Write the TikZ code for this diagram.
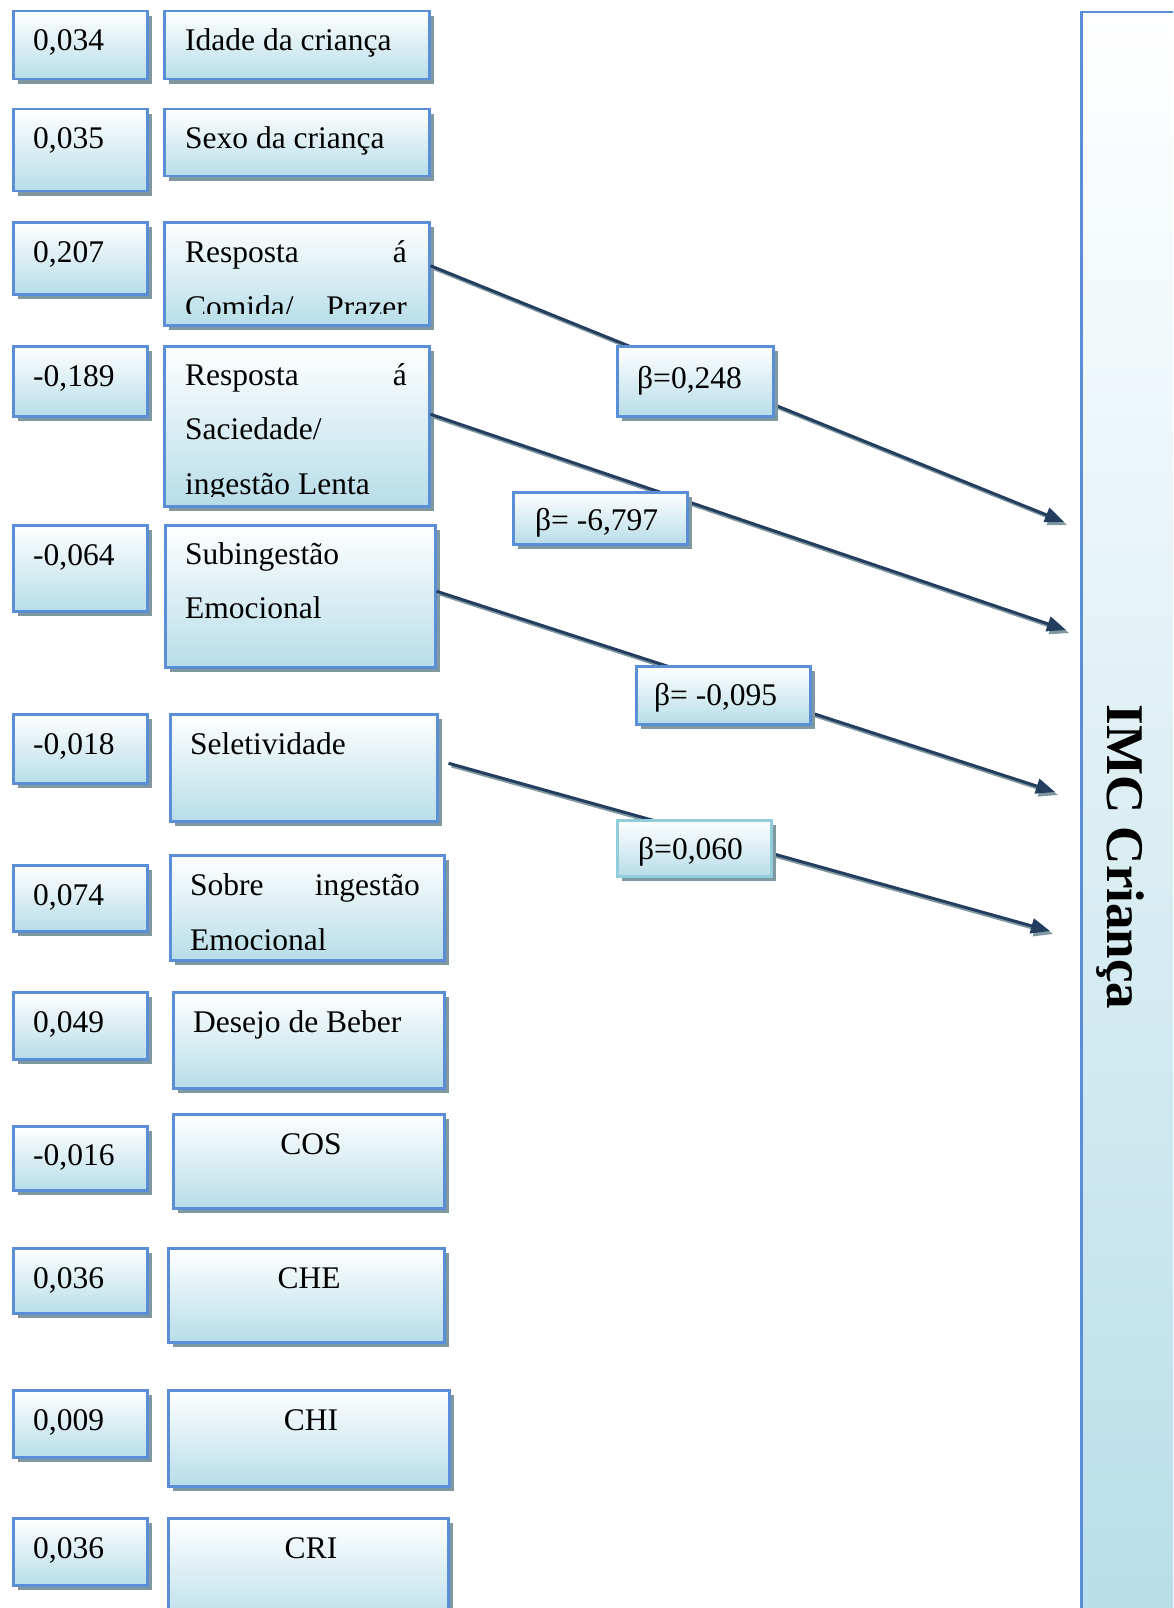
\documentclass[tikz,border=0pt]{standalone}
\usepackage{fontspec}
\setmainfont{Liberation Serif}
\usetikzlibrary{shadows,arrows.meta}
\definecolor{boxblue}{RGB}{183,221,232}
\definecolor{bordblue}{RGB}{90,143,216}
\definecolor{bordcyan}{RGB}{146,205,220}
\definecolor{shadowc}{RGB}{128,152,160}
\definecolor{navyc}{RGB}{36,62,96}
\newcommand\mytxtfont{\fontsize{31.5}{38}\selectfont}
\tikzset{
  cbox/.style={rectangle, draw=bordblue, line width=2.5pt, top color=white, bottom color=boxblue,
    inner sep=0pt, anchor=north west,
    drop shadow={shadow xshift=5pt, shadow yshift=-5pt, fill=shadowc, opacity=1}},
  txt/.style={inner sep=0pt, anchor=base west, font=\mytxtfont},
  txtr/.style={txt, anchor=base east},
  txtc/.style={txt, anchor=base},
  arr/.style={draw=navyc, line width=3pt, -{Triangle[length=19pt,width=15pt]}},
  arrsh/.style={draw=shadowc, line width=2.5pt, -{Triangle[length=19pt,width=15pt]},
    transform canvas={shift={(3pt,-3pt)}}}
}
\begin{document}
\begin{tikzpicture}[x=1pt,y=-1pt]
\useasboundingbox (0,0) rectangle (1173,1608);
\clip (0,0) rectangle (1173,1608);

% IMC box
\node[rectangle, draw=bordblue, line width=2.5pt, top color=white, bottom color=boxblue,
  inner sep=0pt, anchor=north west, minimum width=140pt, minimum height=1640pt] (imc) at (1080,11) {};
\node[inner sep=0pt, anchor=base, rotate=-90, font=\fontsize{53}{60}\selectfont\bfseries] (imct) at (1107,857) {IMC Criança};

% value boxes
\node[cbox, minimum width=134pt, minimum height=68pt] (v1) at (12,10) {};
\node[txt] (v1t) at (33,51) {0,034};
\node[cbox, minimum width=134pt, minimum height=82pt] (v2) at (12,108) {};
\node[txt] (v2t) at (33,149) {0,035};
\node[cbox, minimum width=134pt, minimum height=72pt] (v3) at (12,221) {};
\node[txt] (v3t) at (33,262) {0,207};
\node[cbox, minimum width=134pt, minimum height=70pt] (v4) at (12,345) {};
\node[txt] (v4t) at (33,386) {-0,189};
\node[cbox, minimum width=134pt, minimum height=86pt] (v5) at (12,524) {};
\node[txt] (v5t) at (33,565) {-0,064};
\node[cbox, minimum width=134pt, minimum height=69pt] (v6) at (12,713) {};
\node[txt] (v6t) at (33,754) {-0,018};
\node[cbox, minimum width=134pt, minimum height=66pt] (v7) at (12,864) {};
\node[txt] (v7t) at (33,905) {0,074};
\node[cbox, minimum width=134pt, minimum height=67pt] (v8) at (12,991) {};
\node[txt] (v8t) at (33,1032) {0,049};
\node[cbox, minimum width=134pt, minimum height=64pt] (v9) at (12,1125) {};
\node[txt] (v9t) at (33,1165) {-0,016};
\node[cbox, minimum width=134pt, minimum height=65pt] (v10) at (12,1247) {};
\node[txt] (v10t) at (33,1288) {0,036};
\node[cbox, minimum width=134pt, minimum height=67pt] (v11) at (12,1389) {};
\node[txt] (v11t) at (33,1430) {0,009};
\node[cbox, minimum width=134pt, minimum height=67pt] (v12) at (12,1517) {};
\node[txt] (v12t) at (33,1558) {0,036};

% variable boxes
\node[cbox, minimum width=265pt, minimum height=68pt] (c1) at (163,10) {};
\node[txt] (c1t) at (185,51) {Idade da criança};
\node[cbox, minimum width=265pt, minimum height=67pt] (c2) at (163,108) {};
\node[txt] (c2t) at (185,149) {Sexo da criança};
\node[cbox, minimum width=265pt, minimum height=103pt] (c3) at (163,221) {};
\begin{scope}
\clip (c3.north west) rectangle ([yshift=13pt]c3.south east);
\node[txt] (c3a) at (185,262) {Resposta};
\node[txtr] (c3b) at (407,262) {á};
\node[txt] (c3c) at (185,317) {Comida/};
\node[txtr] (c3d) at (407,317) {Prazer};
\end{scope}
\node[cbox, minimum width=265pt, minimum height=160pt] (c4) at (163,345) {};
\begin{scope}
\clip (c4.north west) rectangle ([yshift=11pt]c4.south east);
\node[txt] (c4a) at (185,385) {Resposta};
\node[txtr] (c4b) at (407,385) {á};
\node[txt] (c4c) at (185,439) {Saciedade/};
\node[txt] (c4d) at (185,494) {ingestão Lenta};
\end{scope}
\node[cbox, minimum width=270pt, minimum height=142pt] (c5) at (164,524) {};
\node[txt] (c5a) at (185,564) {Subingestão};
\node[txt] (c5b) at (185,618) {Emocional};
\node[cbox, minimum width=267pt, minimum height=107pt] (c6) at (169,713) {};
\node[txt] (c6t) at (190,754) {Seletividade};
\node[cbox, minimum width=274pt, minimum height=105pt] (c7) at (169,854) {};
\begin{scope}
\clip (c7.north west) rectangle ([yshift=12pt]c7.south east);
\node[txt] (c7a) at (190,895) {Sobre};
\node[txtr] (c7b) at (420,895) {ingestão};
\node[txt] (c7c) at (190,950) {Emocional};
\end{scope}
\node[cbox, minimum width=271pt, minimum height=96pt] (c8) at (172,991) {};
\node[txt] (c8t) at (193,1032) {Desejo de Beber};
\node[cbox, minimum width=271pt, minimum height=94pt] (c9) at (172,1113) {};
\node[txtc] (c9t) at (311,1154) {COS};
\node[cbox, minimum width=276pt, minimum height=94pt] (c10) at (167,1247) {};
\node[txtc] (c10t) at (309,1288) {CHE};
\node[cbox, minimum width=281pt, minimum height=96pt] (c11) at (167,1389) {};
\node[txtc] (c11t) at (311,1430) {CHI};
\node[cbox, minimum width=280pt, minimum height=110pt] (c12) at (167,1517) {};
\node[txtc] (c12t) at (311,1558) {CRI};

% arrow tips
\coordinate (t1) at (1064,522);
\coordinate (t2) at (1066,630);
\coordinate (t3) at (1055,792);
\coordinate (t4) at (1050,931);

% arrows (shadow first)
\draw[arrsh] ([yshift=8pt]c3.east) -- (t1);
\draw[arr] ([yshift=8pt]c3.east) -- (t1);
\draw[arrsh] ([yshift=12pt]c4.east) -- (t2);
\draw[arr] ([yshift=12pt]c4.east) -- (t2);
\draw[arrsh] ([yshift=5pt]c5.east) -- (t3);
\draw[arr] ([yshift=5pt]c5.east) -- (t3);
\draw[arrsh] ([xshift=10pt,yshift=4.5pt]c6.east) -- (t4);
\draw[arr] ([xshift=10pt,yshift=4.5pt]c6.east) -- (t4);

% beta boxes
\node[cbox, minimum width=156pt, minimum height=70pt] (b1) at (616,345) {};
\node[txt] (b1t) at (637,388) {β=0,248};
\node[cbox, minimum width=174pt, minimum height=52pt] (b2) at (512,491) {};
\node[txt] (b2t) at (535,530) {β= -6,797};
\node[cbox, minimum width=174pt, minimum height=58pt] (b3) at (635,665) {};
\node[txt] (b3t) at (654,705) {β= -0,095};
\node[cbox, draw=bordcyan, minimum width=154pt, minimum height=56pt] (b4) at (616,819) {};
\node[txt] (b4t) at (638,859) {β=0,060};
\end{tikzpicture}
\end{document}
